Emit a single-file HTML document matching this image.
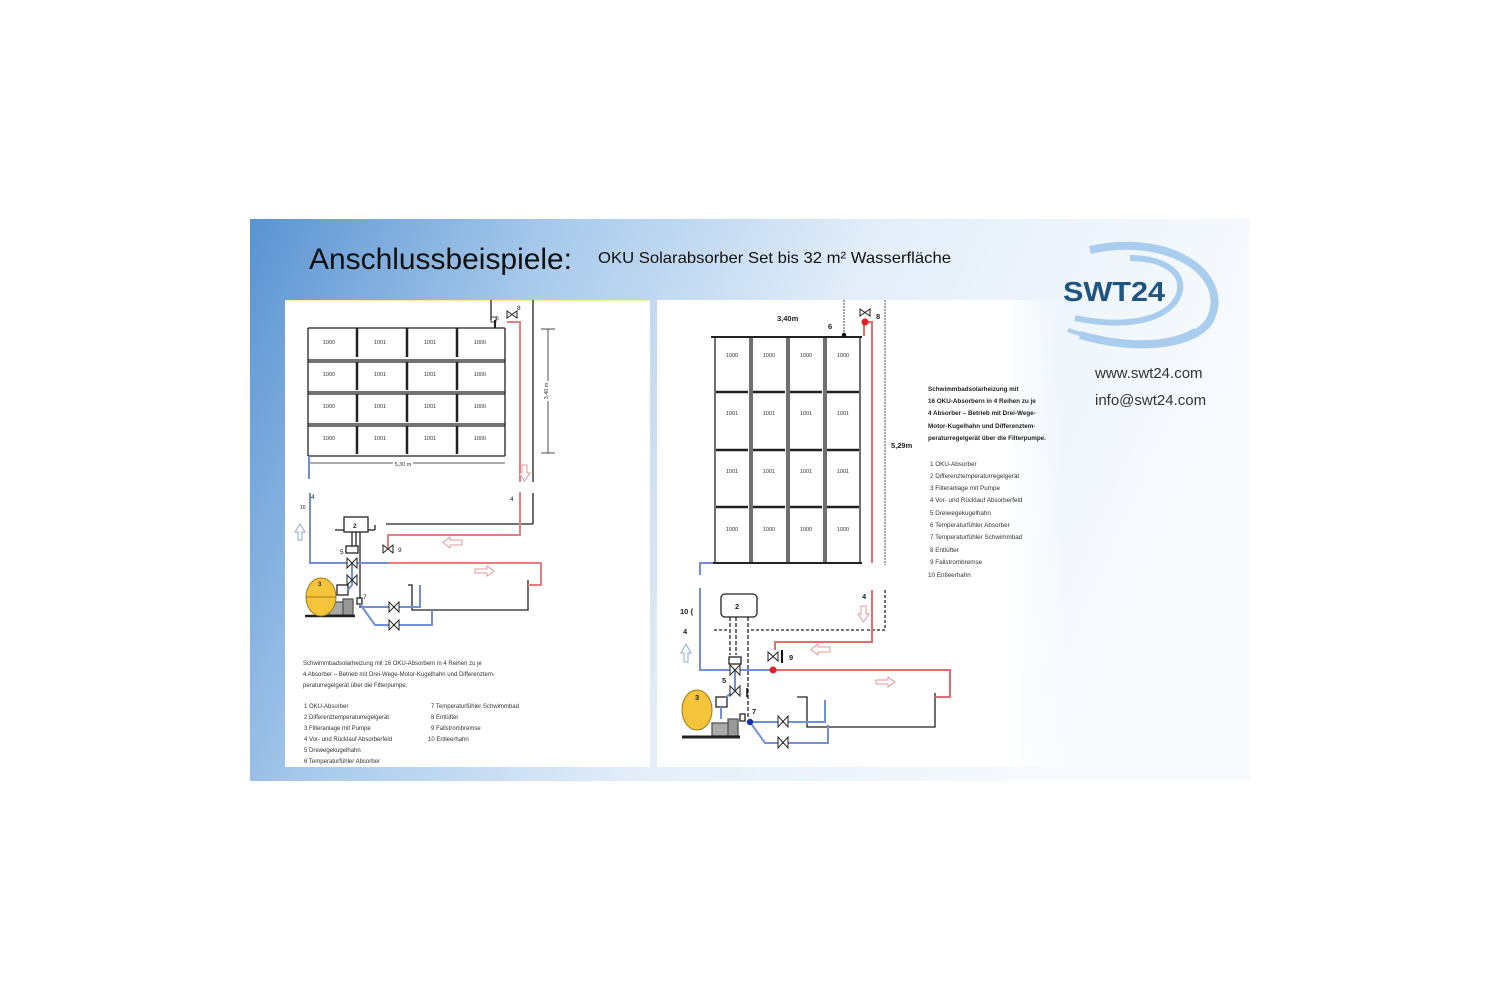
<!DOCTYPE html>
<html><head><meta charset="utf-8"><style>
html,body{margin:0;padding:0;background:#fff;}
svg{display:block}
text{font-family:"Liberation Sans",sans-serif;}
</style></head><body>
<svg width="1500" height="1000" viewBox="0 0 1500 1000" xmlns="http://www.w3.org/2000/svg">
<defs>
<linearGradient id="bg" x1="0" y1="0" x2="1" y2="0.25">
<stop offset="0" stop-color="#5a93d2"/>
<stop offset="0.3" stop-color="#aacbec"/>
<stop offset="0.6" stop-color="#e4eef9"/>
<stop offset="1" stop-color="#f8fbfe"/>
</linearGradient>
<linearGradient id="fadeR" x1="0" y1="0" x2="1" y2="0">
<stop offset="0.85" stop-color="#fff"/>
<stop offset="1" stop-color="#fff" stop-opacity="0"/>
</linearGradient>
</defs>
<rect x="250" y="219" width="1000" height="562" fill="url(#bg)"/>
<rect x="285" y="300" width="365" height="467" fill="#fff"/>
<line x1="285" y1="300.5" x2="650" y2="300.5" stroke="#f0f0a0" stroke-width="1"/>
<rect x="657" y="300" width="410" height="467" fill="url(#fadeR)"/>

<text x="309" y="269" font-size="30" fill="#111" textLength="263" lengthAdjust="spacingAndGlyphs">Anschlussbeispiele:</text>
<text x="598" y="263" font-size="16" fill="#111" textLength="353" lengthAdjust="spacingAndGlyphs">OKU Solarabsorber Set bis 32 m² Wasserfläche</text>

<g fill="none" stroke="#a9cdee">
<path d="M1090 250 C1170 232 1232 275 1210 320 C1195 345 1140 352 1080 335" stroke-width="8"/>
<path d="M1075 318 C1130 330 1175 318 1180 290 C1183 270 1160 258 1130 258" stroke-width="6"/>
<path d="M1068 330 C1110 345 1165 348 1195 330" stroke-width="4"/>
</g>
<text x="1063" y="301" font-size="28" font-weight="bold" fill="#1d5480" textLength="102" lengthAdjust="spacingAndGlyphs">SWT24</text>
<text x="1095" y="378" font-size="15" fill="#333">www.swt24.com</text>
<text x="1095" y="405" font-size="15" fill="#333">info@swt24.com</text>

<!-- LEFT DIAGRAM -->
<g stroke="#222" stroke-width="1.3" fill="none">
<line x1="308" y1="328" x2="505" y2="328"/>
<line x1="308" y1="360" x2="505" y2="360"/><line x1="308" y1="362" x2="505" y2="362"/>
<line x1="308" y1="392" x2="505" y2="392"/><line x1="308" y1="394" x2="505" y2="394"/>
<line x1="308" y1="424" x2="505" y2="424"/><line x1="308" y1="426" x2="505" y2="426"/>
<line x1="308" y1="456" x2="505" y2="456"/>
<line x1="308" y1="328" x2="308" y2="456"/>
<line x1="505" y1="328" x2="505" y2="456"/>
<g stroke-width="2.5">
<line x1="357" y1="328" x2="357" y2="357"/><line x1="357" y1="362" x2="357" y2="390"/><line x1="357" y1="394" x2="357" y2="422"/><line x1="357" y1="426" x2="357" y2="454"/>
<line x1="407" y1="328" x2="407" y2="357"/><line x1="407" y1="362" x2="407" y2="390"/><line x1="407" y1="394" x2="407" y2="422"/><line x1="407" y1="426" x2="407" y2="454"/>
<line x1="457" y1="328" x2="457" y2="357"/><line x1="457" y1="362" x2="457" y2="390"/><line x1="457" y1="394" x2="457" y2="422"/><line x1="457" y1="426" x2="457" y2="454"/>
</g>
<line x1="548" y1="329" x2="548" y2="453" stroke-width="0.8"/>
<line x1="541" y1="329" x2="555" y2="329" stroke-width="0.8"/>
<line x1="541" y1="453" x2="555" y2="453" stroke-width="0.8"/>
<line x1="309" y1="463" x2="505" y2="463" stroke-width="0.8"/>
<line x1="533" y1="300" x2="533" y2="482"/>
<line x1="533" y1="493" x2="533" y2="524"/><line x1="533" y1="524" x2="386" y2="524"/>
<line x1="491" y1="300" x2="491" y2="320"/><line x1="495" y1="320" x2="495" y2="328" stroke-width="2"/>
<rect x="491" y="317" width="5" height="5" stroke-width="0.8"/>
<rect x="344" y="517" width="24" height="15" fill="#fff"/>
<line x1="335" y1="530" x2="344" y2="530"/><line x1="368" y1="530" x2="375" y2="530"/><line x1="375" y1="530" x2="375" y2="525"/>
<line x1="352" y1="532" x2="352" y2="550"/><line x1="356" y1="532" x2="356" y2="550"/>
<line x1="360" y1="532" x2="360" y2="608"/>
<polyline points="408,585 412,585 412,610 528,610 528,580"/>
<rect x="337" y="585" width="11" height="10" fill="#fff"/>
<rect x="329" y="602" width="16" height="13" fill="#aaa" stroke="#555"/>
<rect x="343" y="599" width="10" height="16" fill="#999" stroke="#555"/>
<line x1="305" y1="616" x2="355" y2="616" stroke-width="2.5"/>
<rect x="346" y="546" width="12" height="7" fill="#fff"/>
<rect x="357" y="598" width="5" height="6" fill="#fff"/>
</g>
<g fill="none" stroke="#e47f7f" stroke-width="2">
<polyline points="507,322 520,322 520,482"/>
<polyline points="520,492 520,535 388,535 388,548"/>
<polyline points="388,563 541,563 541,585 528,585"/>
</g>
<g fill="none" stroke="#6f8fd6" stroke-width="2">
<line x1="309" y1="456" x2="309" y2="479"/>
<polyline points="310,493 310,563 388,563"/>
<polyline points="352,563 352,585 348,590"/>
<line x1="335" y1="595" x2="335" y2="602"/>
<polyline points="360,604 375,625 432,625 432,610"/>
<polyline points="362,607 420,607 420,585"/>
</g>
<g fill="#fff" stroke="#222" stroke-width="1">
<path d="M347 558 L357 568 L357 558 L347 568Z"/>
<path d="M347 575 L357 585 L357 575 L347 585Z"/>
<path d="M383 545 L393 553 L393 545 L383 553Z"/>
<path d="M389 602 L399 612 L399 602 L389 612Z"/>
<path d="M389 620 L399 630 L399 620 L389 630Z"/>
<path d="M507 311 L517 318 L517 311 L507 318Z"/>
</g>
<ellipse cx="321" cy="597" rx="15" ry="19" fill="#f6c43a" stroke="#a07a10"/>
<line x1="306" y1="597" x2="336" y2="597" stroke="#8a6a10" stroke-width="0.8"/>
<g font-size="5.5" fill="#333" text-anchor="middle">
<text x="329" y="344">1000</text><text x="380" y="344">1001</text><text x="430" y="344">1001</text><text x="480" y="344">1000</text>
<text x="329" y="376">1000</text><text x="380" y="376">1001</text><text x="430" y="376">1001</text><text x="480" y="376">1000</text>
<text x="329" y="408">1000</text><text x="380" y="408">1001</text><text x="430" y="408">1001</text><text x="480" y="408">1000</text>
<text x="329" y="440">1000</text><text x="380" y="440">1001</text><text x="430" y="440">1001</text><text x="480" y="440">1000</text>
<text x="403" y="466" fill="#333" stroke="#fff" stroke-width="4" paint-order="stroke">5,30 m</text>
<text x="548" y="391" transform="rotate(-90 548 391)" stroke="#fff" stroke-width="4" paint-order="stroke">3,40 m</text>
</g>
<g font-size="6.5" fill="#222" font-weight="bold">
<text x="353" y="528">2</text><text x="318" y="586" font-size="6">3</text>
<text x="340" y="554" font-weight="normal">5</text><text x="363" y="599" font-weight="normal">7</text>
<text x="398" y="552" font-weight="normal">9</text><text x="510" y="501" font-weight="normal">4</text>
<text x="311" y="499" font-weight="normal">4</text><text x="300" y="509" font-size="5" font-weight="normal">10</text>
<text x="517" y="310" font-weight="normal">8</text><text x="496" y="320" font-size="5" font-weight="normal">6</text>
</g>
<g fill="#fff" stroke="#e49a9a" stroke-width="1">
<path d="M522 465 h5 v8 h3 l-5.5 8 l-5.5 -8 h3z"/>
<path d="M462 540 h-12 v-3 l-7 5.5 l7 5.5 v-3 h12z"/>
<path d="M475 569 h12 v-3 l7 5 l-7 5 v-3 h-12z"/>
</g>
<path d="M298 540 v-8 h-3 l5 -8 l5 8 h-3 v8z" fill="#fff" stroke="#8fa9e0"/>
<g font-size="6" fill="#333">
<text x="303" y="665">Schwimmbadsolarheizung mit 16 OKU-Absorbern in 4 Reihen zu je</text>
<text x="303" y="676">4 Absorber – Betrieb mit Drei-Wege-Motor-Kugelhahn und Differenztem-</text>
<text x="303" y="687">peraturregelgerät über die Filterpumpe.</text>
<text x="304" y="708">1 OKU-Absorber</text><text x="304" y="719">2 Differenztemperaturregelgerät</text>
<text x="304" y="730">3 Filteranlage mit Pumpe</text><text x="304" y="741">4 Vor- und Rücklauf Absorberfeld</text>
<text x="304" y="752">5 Drewegekugelhahn</text><text x="304" y="763">6 Temperaturfühler Absorber</text>
<text x="431" y="708">7 Temperaturfühler Schwimmbad</text><text x="431" y="719">8 Entlüfter</text>
<text x="431" y="730">9 Fallstrombremse</text><text x="428" y="741">10 Entleerhahn</text>
</g>

<!-- RIGHT DIAGRAM -->
<g stroke="#222" stroke-width="1.3" fill="none">
<line x1="711" y1="337" x2="862" y2="337" stroke-width="2"/>
<line x1="713" y1="563" x2="862" y2="563" stroke-width="2"/>
<line x1="715" y1="337" x2="715" y2="563"/><line x1="750" y1="337" x2="750" y2="563"/><line x1="752" y1="337" x2="752" y2="563"/>
<line x1="787" y1="337" x2="787" y2="563"/><line x1="789" y1="337" x2="789" y2="563"/>
<line x1="824" y1="337" x2="824" y2="563"/><line x1="826" y1="337" x2="826" y2="563"/><line x1="860" y1="337" x2="860" y2="563"/>
<g stroke-width="2.5">
<line x1="716" y1="392" x2="748" y2="392"/><line x1="753" y1="392" x2="785" y2="392"/><line x1="790" y1="392" x2="822" y2="392"/><line x1="827" y1="392" x2="859" y2="392"/>
<line x1="716" y1="450" x2="748" y2="450"/><line x1="753" y1="450" x2="785" y2="450"/><line x1="790" y1="450" x2="822" y2="450"/><line x1="827" y1="450" x2="859" y2="450"/>
<line x1="716" y1="507" x2="748" y2="507"/><line x1="753" y1="507" x2="785" y2="507"/><line x1="790" y1="507" x2="822" y2="507"/><line x1="827" y1="507" x2="859" y2="507"/>
</g>
<line x1="844" y1="300" x2="844" y2="335" stroke-dasharray="2 1" stroke-width="0.8"/>
<line x1="885" y1="300" x2="885" y2="565" stroke-dasharray="2 1" stroke-width="0.8"/>
<line x1="885" y1="590" x2="885" y2="630" stroke-dasharray="3 2"/>
<line x1="885" y1="630" x2="865" y2="630" stroke-dasharray="3 2"/>
<polyline points="714,630 728,630" stroke-dasharray="3 2"/>
<polyline points="751,630 865,630" stroke-dasharray="3 2"/>
<rect x="721" y="594" width="36" height="23" rx="4" fill="#fff"/>
<line x1="730" y1="617" x2="730" y2="655" stroke-dasharray="4 2"/>
<line x1="736" y1="617" x2="736" y2="655" stroke-dasharray="4 2"/>
<line x1="748" y1="617" x2="748" y2="718" stroke-dasharray="4 2"/>
<polyline points="797,697 807,697 807,727 935,727 935,693"/>
<rect x="729" y="657" width="12" height="7" fill="#fff"/>
<rect x="716" y="697" width="11" height="10" fill="#fff"/>
<rect x="712" y="723" width="18" height="13" fill="#aaa" stroke="#555"/>
<rect x="728" y="719" width="10" height="17" fill="#999" stroke="#555"/>
<line x1="682" y1="737" x2="740" y2="737" stroke-width="3"/>
<rect x="740" y="714" width="5" height="7" fill="#fff"/>
</g>
<circle cx="844" cy="335" r="2.2" fill="#111"/>
<g fill="none" stroke="#e76c6c" stroke-width="2">
<polyline points="864,336 864,322 872,322 872,563"/>
<polyline points="872,590 872,642 775,642 775,650"/>
<polyline points="773,670 950,670 950,697 935,697"/>
</g>
<g fill="none" stroke="#7090da" stroke-width="2">
<polyline points="713,563 700,563 700,575"/>
<polyline points="700,588 700,670 773,670"/>
<polyline points="735,670 735,690 726,697"/>
<line x1="721" y1="707" x2="721" y2="719"/>
<polyline points="750,722 825,722 825,700"/>
<polyline points="750,722 765,743 828,743 828,725"/>
</g>
<circle cx="773" cy="670" r="3.5" fill="#e02020"/>
<circle cx="865" cy="322" r="3.5" fill="#e02020"/>
<circle cx="750" cy="722" r="3.2" fill="#1030c0"/>
<g fill="#fff" stroke="#222" stroke-width="1">
<path d="M730 665 L740 675 L740 665 L730 675Z"/>
<path d="M730 686 L740 696 L740 686 L730 696Z"/>
<path d="M768 652 L778 661 L778 652 L768 661Z"/>
<path d="M778 716 L788 727 L788 716 L778 727Z"/>
<path d="M778 737 L788 748 L788 737 L778 748Z"/>
<path d="M860 309 L870 316 L870 309 L860 316Z"/>
</g>
<line x1="782" y1="650" x2="782" y2="663" stroke="#111" stroke-width="2"/>
<line x1="747" y1="688" x2="747" y2="697" stroke="#111" stroke-width="1.5"/>
<ellipse cx="697" cy="710" rx="15" ry="20" fill="#f6c43a" stroke="#a07a10"/>
<g font-size="5.5" fill="#333" text-anchor="middle">
<text x="732" y="357">1000</text><text x="769" y="357">1000</text><text x="806" y="357">1000</text><text x="843" y="357">1000</text>
<text x="732" y="415">1001</text><text x="769" y="415">1001</text><text x="806" y="415">1001</text><text x="843" y="415">1001</text>
<text x="732" y="473">1001</text><text x="769" y="473">1001</text><text x="806" y="473">1001</text><text x="843" y="473">1001</text>
<text x="732" y="531">1000</text><text x="769" y="531">1000</text><text x="806" y="531">1000</text><text x="843" y="531">1000</text>
</g>
<g font-size="7.5" fill="#222" font-weight="bold">
<text x="777" y="321">3,40m</text><text x="828" y="329">6</text><text x="876" y="319">8</text>
<text x="891" y="448">5,29m</text>
<text x="735" y="609">2</text><text x="695" y="700">3</text>
<text x="722" y="683">5</text><text x="752" y="714">7</text><text x="789" y="660">9</text>
<text x="862" y="599">4</text><text x="680" y="614">10 {</text><text x="683" y="634">4</text>
</g>
<g fill="#fff" stroke="#e49a9a" stroke-width="1">
<path d="M861 606 h5 v8 h3 l-5.5 8 l-5.5 -8 h3z"/>
<path d="M830 647 h-12 v-3 l-7 5.5 l7 5.5 v-3 h12z"/>
<path d="M876 680 h12 v-3 l7 5 l-7 5 v-3 h-12z"/>
</g>
<path d="M684 662 v-9 h-3 l5 -9 l5 9 h-3 v9z" fill="#fff" stroke="#8fa9e0"/>
<g font-size="6.3" fill="#222" font-weight="bold">
<text x="928" y="391">Schwimmbadsolarheizung mit</text>
<text x="928" y="403">16 OKU-Absorbern in 4 Reihen zu je</text>
<text x="928" y="415">4 Absorber – Betrieb mit Drei-Wege-</text>
<text x="928" y="428">Motor-Kugelhahn und Differenztem-</text>
<text x="928" y="440">peraturregelgerät über die Filterpumpe.</text>
</g>
<g font-size="6.3" fill="#333">
<text x="930" y="466">1 OKU-Absorber</text><text x="930" y="478">2 Differenztemperaturregelgerät</text>
<text x="930" y="490">3 Filteranlage mit Pumpe</text><text x="930" y="502">4 Vor- und Rücklauf Absorberfeld</text>
<text x="930" y="515">5 Dreiwegekugelhahn</text><text x="930" y="527">6 Temperaturfühler Absorber</text>
<text x="930" y="539">7 Temperaturfühler Schwimmbad</text><text x="930" y="552">8 Entlüfter</text>
<text x="930" y="564">9 Fallstrombremse</text><text x="928" y="577">10 Entleerhahn</text>
</g>
</svg>
</body></html>
